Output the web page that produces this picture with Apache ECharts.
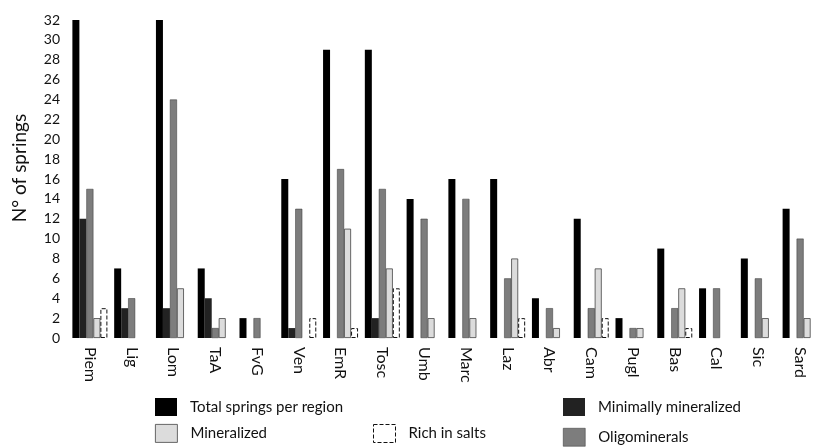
<!DOCTYPE html>
<html>
<head>
<meta charset="utf-8">
<script src="https://cdn.jsdelivr.net/npm/echarts@6/dist/echarts.min.js"></script>
<style>
html,body{margin:0;padding:0;background:#fff;}
#chart{width:821px;height:447px;}
</style>
</head>
<body>
<div id="chart"></div>
<script>
const categories = ['Piem','Lig','Lom','TaA','FvG','Ven','EmR','Tosc','Umb','Marc','Laz','Abr','Cam','Pugl','Bas','Cal','Sic','Sard'];
const totalSprings = [32,7,32,7,2,16,29,29,14,16,16,4,12,2,9,5,8,13];
const minimallyMineralized = [12,3,3,4,0,1,0,2,0,0,0,0,0,0,0,0,0,0];
const oligominerals = [15,4,24,1,2,13,17,15,12,14,6,3,3,1,3,5,6,10];
const mineralized = [2,0,5,2,0,0,11,7,2,2,8,1,7,1,5,0,2,2];
const richInSalts = [3,0,0,0,0,2,1,5,0,0,2,0,2,0,1,0,0,0];
const yTicks = [0,2,4,6,8,10,12,14,16,18,20,22,24,26,28,30,32];

const FONT = 'Lato';
const chart = echarts.init(document.getElementById('chart'), null, {renderer:'canvas'});

const styles = {
  'Total springs per region': {color:'#000'},
  'Minimally mineralized': {color:'#222'},
  'Oligominerals': {color:'#7d7d7d', borderColor:'#333', borderWidth:0.5},
  'Mineralized': {color:'#dcdcdc', borderColor:'#444', borderWidth:0.8},
  'Rich in salts': {color:'#fff', borderColor:'#111', borderWidth:1, borderType:'dashed'}
};

function legendAt(name, left, top){
  return {
    data:[{name:name, icon:'rect', itemStyle:Object.assign({borderWidth:0}, styles[name])}],
    left:left, top:top, padding:0, orient:'horizontal',
    itemWidth:22, itemHeight:18, selectedMode:false,
    textStyle:{fontFamily:FONT, fontSize:15, color:'#111', padding:[0,0,0,8]}
  };
}
const nz = arr => arr.map(v => v === 0 ? null : v);
function barSeries(name, data){
  return {name:name, type:'bar', data:nz(data), barWidth:7, barGap:'0%', itemStyle:styles[name]};
}

chart.setOption({
  animation:false,
  backgroundColor:'#fff',
  grid:{left:69, right:-13, top:20, bottom:109, containLabel:false},
  legend:[
    legendAt('Total springs per region',155,398),
    legendAt('Mineralized',155,424),
    legendAt('Rich in salts',373,424),
    legendAt('Minimally mineralized',563,398),
    legendAt('Oligominerals',563,428)
  ],
  xAxis:{
    type:'category', data:categories,
    axisLine:{show:false}, axisTick:{show:false},
    axisLabel:{rotate:-90, margin:9, fontFamily:FONT, fontSize:16, color:'#111', interval:0}
  },
  yAxis:{
    type:'value', min:yTicks[0], max:yTicks[yTicks.length-1], interval:2,
    name:'N° of springs', nameLocation:'middle', nameGap:40,
    nameTextStyle:{fontFamily:FONT, fontSize:19, color:'#111', padding:[0,0,0,22]},
    axisLine:{show:false}, axisTick:{show:false}, splitLine:{show:false},
    axisLabel:{fontFamily:FONT, fontSize:14, color:'#111', margin:9}
  },
  series:[
    barSeries('Total springs per region', totalSprings),
    barSeries('Minimally mineralized', minimallyMineralized),
    barSeries('Oligominerals', oligominerals),
    barSeries('Mineralized', mineralized),
    barSeries('Rich in salts', richInSalts)
  ]
});
</script>
</body>
</html>
